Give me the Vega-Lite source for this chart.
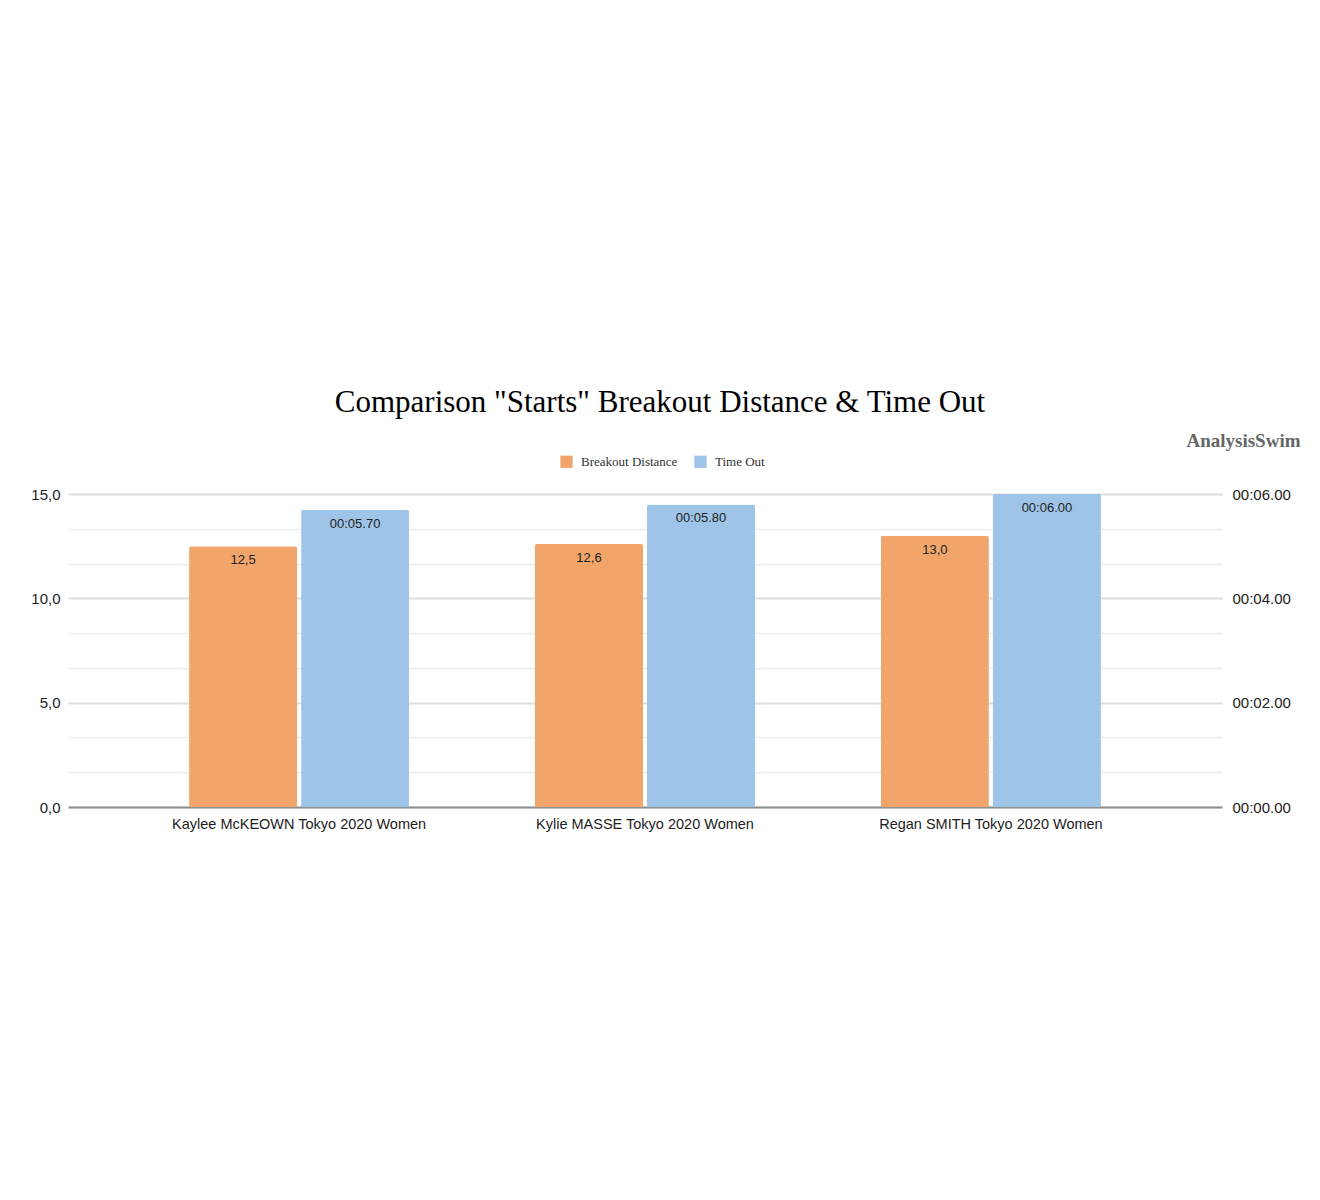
{
  "$schema": "https://vega.github.io/schema/vega-lite/v6.json",
  "width": 1154,
  "height": 313,
  "autosize": {"type": "none"},
  "padding": {"left": 68, "top": 494, "right": 98, "bottom": 393},
  "background": "white",
  "title": {
    "text": "Comparison \"Starts\" Breakout Distance & Time Out",
    "font": "Liberation Serif",
    "fontSize": 31,
    "fontWeight": "normal",
    "color": "#000000",
    "anchor": "middle",
    "dx": 15,
    "offset": 12
  },
  "data": {
    "values": [
      {"athlete": "Kaylee McKEOWN Tokyo 2020 Women", "measure": "Breakout Distance", "value": 12.5, "label": "12,5"},
      {"athlete": "Kaylee McKEOWN Tokyo 2020 Women", "measure": "Time Out", "value": 5.7, "label": "00:05.70"},
      {"athlete": "Kylie MASSE Tokyo 2020 Women", "measure": "Breakout Distance", "value": 12.6, "label": "12,6"},
      {"athlete": "Kylie MASSE Tokyo 2020 Women", "measure": "Time Out", "value": 5.8, "label": "00:05.80"},
      {"athlete": "Regan SMITH Tokyo 2020 Women", "measure": "Breakout Distance", "value": 13.0, "label": "13,0"},
      {"athlete": "Regan SMITH Tokyo 2020 Women", "measure": "Time Out", "value": 6.0, "label": "00:06.00"}
    ]
  },
  "encoding": {
    "x": {
      "field": "athlete",
      "type": "nominal",
      "sort": null,
      "scale": {"paddingInner": 0.364, "paddingOuter": 0.35},
      "axis": {
        "title": null,
        "labelAngle": 0,
        "labelFont": "Liberation Sans",
        "labelFontSize": 14.5,
        "labelColor": "#222222",
        "labelPadding": 10,
        "labelLimit": 500,
        "ticks": false,
        "domainColor": "#8f8f8f",
        "domainWidth": 2,
        "grid": false
      }
    },
    "xOffset": {
      "field": "measure",
      "type": "nominal",
      "scale": {"domain": ["Breakout Distance", "Time Out"], "paddingInner": 0.036, "paddingOuter": 0}
    }
  },
  "layer": [
    {
      "transform": [{"filter": "datum.measure === 'Breakout Distance'"}],
      "encoding": {
        "y": {
          "field": "value",
          "type": "quantitative",
          "scale": {"domain": [0, 15], "nice": false, "zero": true},
          "axis": {
            "title": null,
            "orient": "left",
            "values": [0, 1.6667, 3.3333, 5, 6.6667, 8.3333, 10, 11.6667, 13.3333, 15],
            "labelExpr": "abs(datum.value - round(datum.value / 5) * 5) < 0.01 ? replace(format(datum.value, '.1f'), '.', ',') : ''",
            "labelFont": "Liberation Sans",
            "labelFontSize": 15,
            "labelColor": "#222222",
            "labelPadding": 8,
            "ticks": false,
            "domain": false,
            "grid": true,
            "gridColor": {"condition": {"test": "abs(datum.value - round(datum.value / 5) * 5) < 0.01", "value": "#dddddd"}, "value": "#ececec"},
            "gridWidth": {"condition": {"test": "abs(datum.value - round(datum.value / 5) * 5) < 0.01", "value": 1.8}, "value": 1.3}
          }
        }
      },
      "layer": [
        {
          "mark": {"type": "bar", "cornerRadiusTopLeft": 2, "cornerRadiusTopRight": 2},
          "encoding": {
            "color": {
              "field": "measure",
              "type": "nominal",
              "scale": {"domain": ["Breakout Distance", "Time Out"], "range": ["#f1a56b", "#9ec4e7"]},
              "legend": {
                "title": null,
                "orient": "none",
                "legendX": 492,
                "legendY": -39,
                "direction": "horizontal",
                "symbolType": "square",
                "symbolSize": 150,
                "symbolStrokeWidth": 0,
                "labelFont": "Liberation Serif",
                "labelFontSize": 13,
                "labelColor": "#333333",
                "columnPadding": 16,
                "labelOffset": 8
              }
            }
          }
        },
        {
          "mark": {"type": "text", "dy": 14, "baseline": "middle", "font": "Liberation Sans", "fontSize": 13, "color": "#222222"},
          "encoding": {"text": {"field": "label"}}
        }
      ]
    },
    {
      "transform": [{"filter": "datum.measure === 'Time Out'"}],
      "encoding": {
        "y": {
          "field": "value",
          "type": "quantitative",
          "scale": {"domain": [0, 6], "nice": false, "zero": true},
          "axis": {
            "title": "AnalysisSwim",
            "titleAngle": 0,
            "titleAlign": "right",
            "titleBaseline": "alphabetic",
            "titleX": 78,
            "titleY": -48,
            "titleFont": "Liberation Serif",
            "titleFontSize": 19,
            "titleFontWeight": "bold",
            "titleColor": "#666666",
            "orient": "right",
            "values": [0, 2, 4, 6],
            "labelExpr": "'00:0' + format(datum.value, '.2f')",
            "labelFont": "Liberation Sans",
            "labelFontSize": 15,
            "labelColor": "#222222",
            "labelPadding": 10,
            "ticks": false,
            "domain": false,
            "grid": false
          }
        }
      },
      "layer": [
        {
          "mark": {"type": "bar", "cornerRadiusTopLeft": 2, "cornerRadiusTopRight": 2},
          "encoding": {
            "color": {
              "field": "measure",
              "type": "nominal",
              "scale": {"domain": ["Breakout Distance", "Time Out"], "range": ["#f1a56b", "#9ec4e7"]}
            }
          }
        },
        {
          "mark": {"type": "text", "dy": 14, "baseline": "middle", "font": "Liberation Sans", "fontSize": 13, "color": "#222222"},
          "encoding": {"text": {"field": "label"}}
        }
      ]
    }
  ],
  "resolve": {"scale": {"y": "independent"}},
  "config": {"view": {"stroke": null}}
}
